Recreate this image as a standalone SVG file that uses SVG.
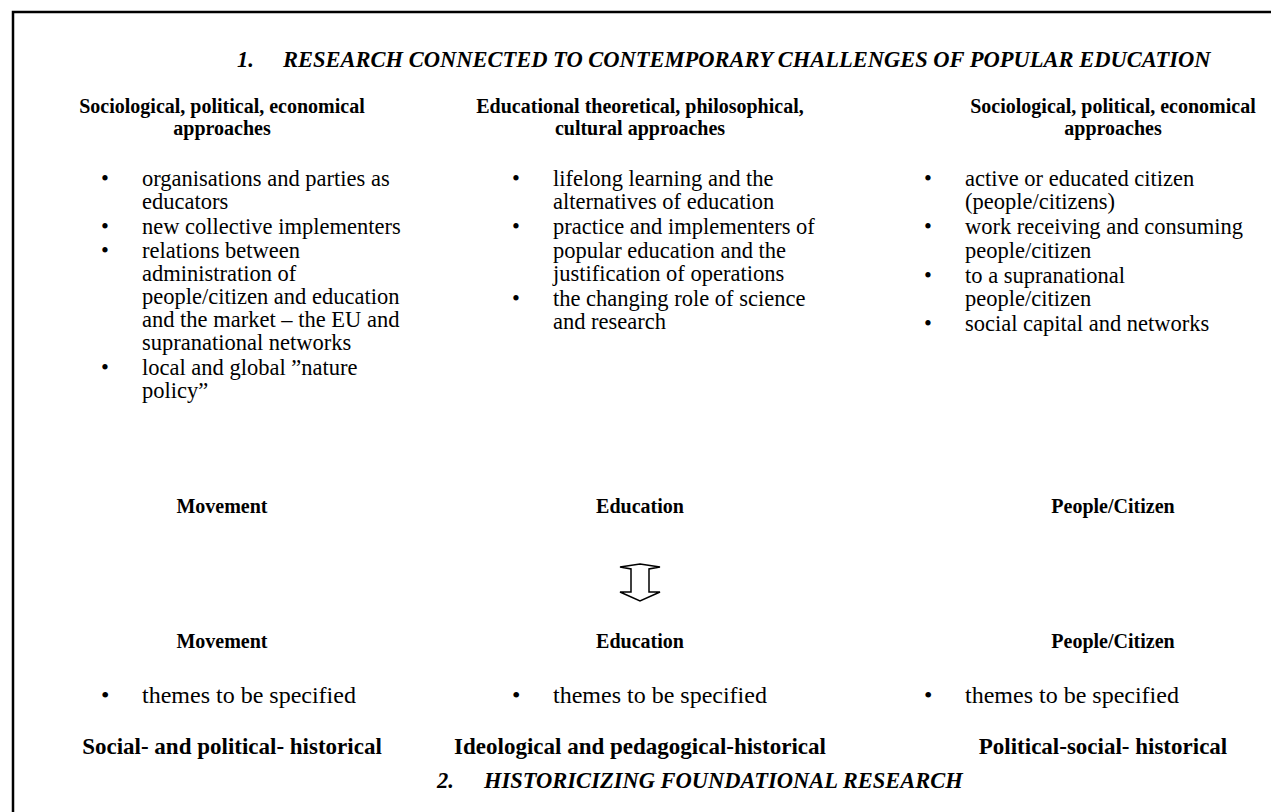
<svg xmlns="http://www.w3.org/2000/svg" width="1271" height="812" viewBox="0 0 1271 812">
<style>
text{font-family:"Liberation Serif","Times New Roman",serif;fill:#000}
.t{font-size:22.5px;font-weight:bold;font-style:italic}
.h{font-size:20px;font-weight:bold;text-anchor:middle}
.h2{font-size:23px;font-weight:bold;text-anchor:middle}
.b{font-size:22.5px}
.th{font-size:24px}
</style>
<rect x="0" y="0" width="1271" height="812" fill="#fff"/>
<path d="M13,830 V12 H1290" fill="none" stroke="#000" stroke-width="2.5"/>
<g id="title1">
<text class="t" x="237" y="67">1.</text>
<text class="t" x="283" y="67">RESEARCH CONNECTED TO CONTEMPORARY CHALLENGES OF POPULAR EDUCATION</text>
</g>
<g id="col-left">
<text class="h" x="222" y="113">Sociological, political, economical</text>
<text class="h" x="222" y="135">approaches</text>
<g class="b">
<text x="101" y="186">•</text>
<text x="142" y="186">organisations and parties as</text>
<text x="142" y="209">educators</text>
<text x="101" y="234">•</text>
<text x="142" y="234">new collective implementers</text>
<text x="101" y="258">•</text>
<text x="142" y="258">relations between</text>
<text x="142" y="281">administration of</text>
<text x="142" y="304">people/citizen and education</text>
<text x="142" y="327">and the market – the EU and</text>
<text x="142" y="350">supranational networks</text>
<text x="101" y="375">•</text>
<text x="142" y="375">local and global ”nature</text>
<text x="142" y="398">policy”</text>
</g>
</g>
<g id="col-mid">
<text class="h" x="640" y="113">Educational theoretical, philosophical,</text>
<text class="h" x="640" y="135">cultural approaches</text>
<g class="b">
<text x="512" y="186">•</text>
<text x="553" y="186">lifelong learning and the</text>
<text x="553" y="209">alternatives of education</text>
<text x="512" y="234">•</text>
<text x="553" y="234">practice and implementers of</text>
<text x="553" y="258">popular education and the</text>
<text x="553" y="281">justification of operations</text>
<text x="512" y="306">•</text>
<text x="553" y="306">the changing role of science</text>
<text x="553" y="329">and research</text>
</g>
</g>
<g id="col-right">
<text class="h" x="1113" y="113">Sociological, political, economical</text>
<text class="h" x="1113" y="135">approaches</text>
<g class="b">
<text x="924" y="186">•</text>
<text x="965" y="186">active or educated citizen</text>
<text x="965" y="209">(people/citizens)</text>
<text x="924" y="234">•</text>
<text x="965" y="234">work receiving and consuming</text>
<text x="965" y="258">people/citizen</text>
<text x="924" y="283">•</text>
<text x="965" y="283">to a supranational</text>
<text x="965" y="306">people/citizen</text>
<text x="924" y="331">•</text>
<text x="965" y="331">social capital and networks</text>
</g>
</g>
<g id="labels-top">
<text class="h" x="222" y="513">Movement</text>
<text class="h" x="640" y="513">Education</text>
<text class="h" x="1113" y="513">People/Citizen</text>
</g>
<g id="connectors">
<polygon points="640,564 660,567 649,569 649,592 660,592 640,601 620,592 631,592 631,569 620,567" fill="#fff" stroke="#000" stroke-width="1.5" stroke-linejoin="miter"/>
</g>
<g id="labels-bottom">
<text class="h" x="222" y="648">Movement</text>
<text class="h" x="640" y="648">Education</text>
<text class="h" x="1113" y="648">People/Citizen</text>
</g>
<g id="themes" class="th">
<text x="101" y="703">•</text>
<text x="142" y="703">themes to be specified</text>
<text x="512" y="703">•</text>
<text x="553" y="703">themes to be specified</text>
<text x="924" y="703">•</text>
<text x="965" y="703">themes to be specified</text>
</g>
<g id="hist">
<text class="h2" x="232" y="754">Social- and political- historical</text>
<text class="h2" x="640" y="754">Ideological and pedagogical-historical</text>
<text class="h2" x="1103" y="754">Political-social- historical</text>
</g>
<g id="title2">
<text class="t" x="437" y="788">2.</text>
<text class="t" x="484" y="788">HISTORICIZING FOUNDATIONAL RESEARCH</text>
</g>
</svg>
